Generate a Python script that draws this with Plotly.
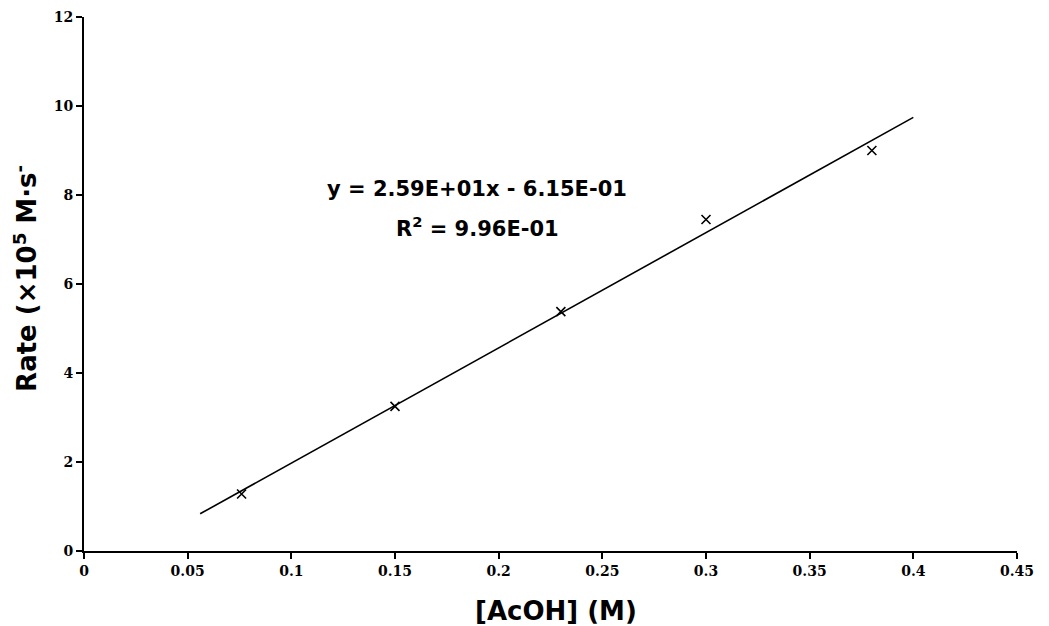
import plotly.graph_objects as go

# data
acoh = [0.076, 0.15, 0.23, 0.30, 0.38]
rate = [1.28, 3.25, 5.38, 7.45, 9.0]
fit_x = [0.056, 0.40]
slope = 25.9
intercept = -0.615
fit_y = [slope * x + intercept for x in fit_x]

x_ticks = [0, 0.05, 0.1, 0.15, 0.2, 0.25, 0.3, 0.35, 0.4, 0.45]
x_tick_text = ["0", "0.05", "0.1", "0.15", "0.2", "0.25", "0.3", "0.35", "0.4", "0.45"]
y_ticks = [0, 2, 4, 6, 8, 10, 12]

fig = go.Figure()
fig.add_trace(go.Scatter(x=fit_x, y=fit_y, mode="lines",
                         line=dict(color="black", width=1.6), showlegend=False))
fig.add_trace(go.Scatter(x=acoh, y=rate, mode="markers",
                         marker=dict(symbol="x-thin-open", size=9, color="black",
                                     line=dict(color="black", width=1.6)),
                         showlegend=False))

tickfont = dict(family="DejaVu Serif", size=14, color="black", weight="bold")
fig.update_layout(
    width=1049, height=626,
    margin=dict(l=76, r=40, t=9, b=83),
    plot_bgcolor="white", paper_bgcolor="white",
    font=dict(family="DejaVu Sans", color="black"),
    xaxis=dict(range=[0, 0.45], tickvals=x_ticks, ticktext=x_tick_text,
               showgrid=False, zeroline=False, showline=True, linecolor="black",
               linewidth=2, ticks="outside", ticklen=6, tickwidth=1.5, tickcolor="black",
               tickfont=tickfont, automargin=False),
    yaxis=dict(range=[0, 12], tickvals=y_ticks,
               showgrid=False, zeroline=False, showline=True, linecolor="black",
               linewidth=2, ticks="outside", ticklen=6, tickwidth=1.5, tickcolor="black",
               tickfont=tickfont, automargin=False),
    annotations=[
        dict(x=0.506, y=-0.112, xref="paper", yref="paper", showarrow=False,
             text="<b>[AcOH] (M)</b>", xanchor="center", yanchor="middle",
             font=dict(family="DejaVu Sans", size=26, color="black")),
        dict(x=-0.063, y=0.51, xref="paper", yref="paper", showarrow=False,
             text="<b>Rate (×10<sup>5</sup> M·s<sup>-</sup></b>", textangle=-90,
             xanchor="center", yanchor="middle",
             font=dict(family="DejaVu Sans", size=26, color="black")),
        dict(x=0.1896, y=8.13, xref="x", yref="y", showarrow=False,
             text="<b>y = 2.59E+01x - 6.15E-01</b>",
             font=dict(family="DejaVu Sans", size=21, color="black")),
        dict(x=0.1896, y=7.28, xref="x", yref="y", showarrow=False,
             text="<b>R<sup>2</sup> = 9.96E-01</b>",
             font=dict(family="DejaVu Sans", size=21, color="black")),
    ],
)

fig.write_html("out.html")
